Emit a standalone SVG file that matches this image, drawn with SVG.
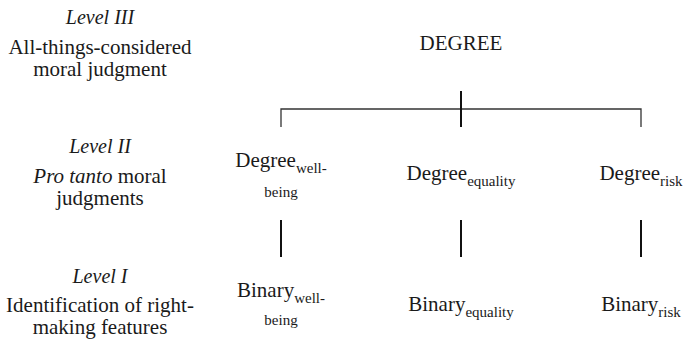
<svg xmlns="http://www.w3.org/2000/svg" width="686" height="342" viewBox="0 0 686 342">
<style>
text { font-family: "Liberation Serif", "Times New Roman", serif; fill: #1a1a1a; text-anchor: middle; }
.lvl { font-size: 20px; font-style: italic; }
.desc { font-size: 21px; }
.node { font-size: 21px; }
.sub { font-size: 15px; }
.thin { stroke: #333; stroke-width: 1.3; fill: none; }
.thick { stroke: #111; stroke-width: 2; fill: none; }
</style>
<rect width="686" height="342" fill="#fff"/>
<g id="level3-label">
<text class="lvl" x="100" y="24">Level III</text>
<text class="desc" x="100" y="54">All-things-considered</text>
<text class="desc" x="100" y="76">moral judgment</text>
</g>
<g id="level2-label">
<text class="lvl" x="100" y="153">Level II</text>
<text class="desc" x="100" y="183"><tspan font-style="italic">Pro tanto</tspan> moral</text>
<text class="desc" x="100" y="205">judgments</text>
</g>
<g id="level1-label">
<text class="lvl" x="100" y="283">Level I</text>
<text class="desc" x="100" y="312">Identification of right-</text>
<text class="desc" x="100" y="334">making features</text>
</g>
<g id="degree">
<text class="node" x="461" y="50">DEGREE</text>
</g>
<g id="degree-wellbeing">
<text class="node" x="281" y="167">Degree<tspan class="sub" dy="6">well-</tspan></text>
<text class="sub" x="281" y="197">being</text>
</g>
<g id="degree-equality">
<text class="node" x="461" y="180">Degree<tspan class="sub" dy="6">equality</tspan></text>
</g>
<g id="degree-risk">
<text class="node" x="641" y="180">Degree<tspan class="sub" dy="6">risk</tspan></text>
</g>
<g id="binary-wellbeing">
<text class="node" x="281" y="297">Binary<tspan class="sub" dy="6">well-</tspan></text>
<text class="sub" x="281" y="325">being</text>
</g>
<g id="binary-equality">
<text class="node" x="461" y="311">Binary<tspan class="sub" dy="6">equality</tspan></text>
</g>
<g id="binary-risk">
<text class="node" x="641" y="311">Binary<tspan class="sub" dy="6">risk</tspan></text>
</g>
<g id="connectors">
<path class="thin" d="M281,127 V109 H641 V127"/>
<path class="thick" d="M461,91 V127"/>
<path class="thick" d="M281,220 V257"/>
<path class="thick" d="M461,220 V257"/>
<path class="thick" d="M641,220 V257"/>
</g>
</svg>
